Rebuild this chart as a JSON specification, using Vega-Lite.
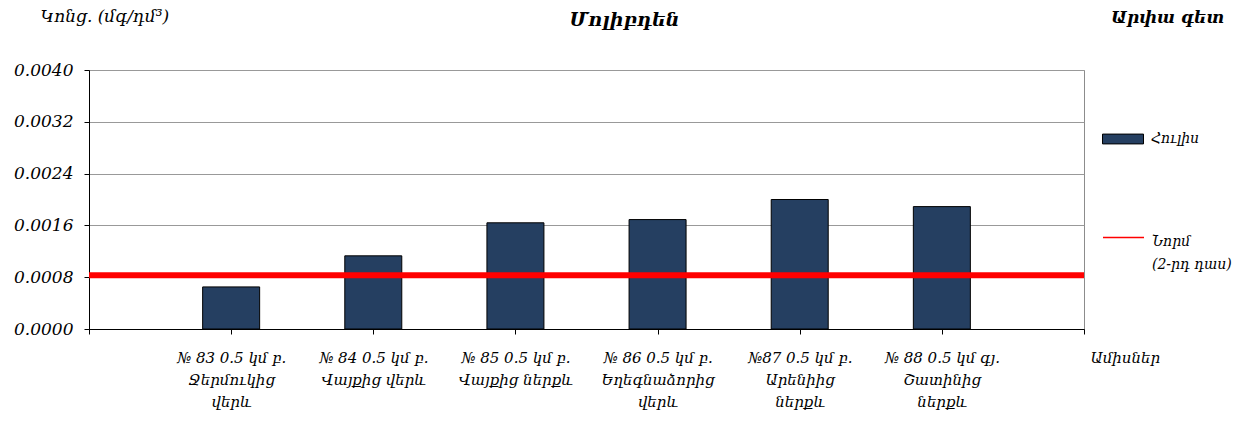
{
  "$schema": "https://vega.github.io/schema/vega-lite/v6.json",
  "width": 995,
  "height": 259,
  "autosize": {"type": "none"},
  "padding": {"left": 89, "top": 70, "right": 159, "bottom": 99},
  "background": "white",
  "config": {
    "font": "DejaVu Serif",
    "view": {"stroke": "#8c8c8c", "strokeWidth": 1}
  },
  "title": {
    "text": "Մոլիբդեն",
    "font": "DejaVu Serif",
    "fontStyle": "italic",
    "fontWeight": "bold",
    "fontSize": 19,
    "color": "black",
    "anchor": "middle",
    "dx": 38,
    "offset": -23
  },
  "layer": [
    {
      "data": {
        "values": [
          {"site": "№ 83 0.5 կմ բ.\nՋերմուկից\nվերև", "value": 0.00065},
          {"site": "№ 84 0.5 կմ բ.\nՎայքից վերև", "value": 0.00113},
          {"site": "№ 85 0.5 կմ բ.\nՎայքից ներքև", "value": 0.00164},
          {"site": "№ 86 0.5 կմ բ.\nԵղեգնաձորից\nվերև", "value": 0.00169},
          {"site": "№87 0.5 կմ բ.\nԱրենիից\nներքև", "value": 0.0020},
          {"site": "№ 88 0.5 կմ գյ.\nՇատինից\nներքև", "value": 0.00189}
        ]
      },
      "mark": {"type": "bar", "width": 57, "stroke": "black", "strokeWidth": 1},
      "encoding": {
        "x": {
          "field": "site",
          "type": "nominal",
          "sort": null,
          "scale": {
            "type": "point",
            "padding": 0,
            "domain": [
              "start",
              "№ 83 0.5 կմ բ.\nՋերմուկից\nվերև",
              "№ 84 0.5 կմ բ.\nՎայքից վերև",
              "№ 85 0.5 կմ բ.\nՎայքից ներքև",
              "№ 86 0.5 կմ բ.\nԵղեգնաձորից\nվերև",
              "№87 0.5 կմ բ.\nԱրենիից\nներքև",
              "№ 88 0.5 կմ գյ.\nՇատինից\nներքև",
              "end"
            ]
          },
          "axis": {
            "title": "Ամիսներ",
            "titleFont": "DejaVu Serif",
            "titleFontStyle": "italic",
            "titleFontWeight": "normal",
            "titleFontSize": 15,
            "titleColor": "black",
            "titleAlign": "left",
            "titleBaseline": "middle",
            "titleAnchor": null,
            "titleX": 1001,
            "titleY": 28,
            "labelExpr": "datum.value == 'start' || datum.value == 'end' ? '' : split(datum.value, '\\n')",
            "labelAngle": 0,
            "labelAlign": "center",
            "labelBaseline": "top",
            "labelFont": "DejaVu Serif",
            "labelFontStyle": "italic",
            "labelFontSize": 15,
            "labelLineHeight": 22,
            "labelColor": "black",
            "labelPadding": 16,
            "labelOverlap": false,
            "labelBound": false,
            "labelLimit": 0,
            "tickSize": 5,
            "tickColor": "black",
            "tickWidth": 1,
            "domainColor": "black",
            "domainWidth": 1,
            "grid": false
          }
        },
        "y": {
          "field": "value",
          "type": "quantitative",
          "scale": {"domain": [0, 0.004], "nice": false},
          "axis": {
            "values": [0, 0.0008, 0.0016, 0.0024, 0.0032, 0.004],
            "format": ".4f",
            "labelFont": "DejaVu Serif",
            "labelFontStyle": "italic",
            "labelFontSize": 17,
            "labelColor": "black",
            "labelPadding": 11,
            "tickSize": 5,
            "tickColor": "black",
            "domainColor": "black",
            "grid": true,
            "gridColor": "#999999",
            "gridWidth": 1,
            "title": "Կոնց. (մգ/դմ³)",
            "titleFont": "DejaVu Serif",
            "titleFontStyle": "italic",
            "titleFontWeight": "normal",
            "titleFontSize": 17,
            "titleColor": "black",
            "titleAngle": 0,
            "titleAlign": "left",
            "titleBaseline": "alphabetic",
            "titleAnchor": null,
            "titleX": -49,
            "titleY": -49
          }
        },
        "fill": {
          "datum": "Հուլիս",
          "type": "nominal",
          "scale": {"range": ["#253F61"]},
          "legend": {
            "orient": "none",
            "legendX": 1013,
            "legendY": -60,
            "title": "Արփա գետ",
            "titleFont": "DejaVu Serif",
            "titleFontStyle": "italic",
            "titleFontWeight": "bold",
            "titleFontSize": 17,
            "titleColor": "black",
            "titlePadding": 91,
            "symbolType": "M-1,-0.24H1V0.24H-1Z",
            "symbolSize": 1681,
            "symbolStrokeColor": "black",
            "symbolStrokeWidth": 1,
            "symbolOpacity": 1,
            "labelFont": "DejaVu Serif",
            "labelFontStyle": "italic",
            "labelFontSize": 14,
            "labelColor": "black",
            "labelOffset": 7,
            "encode": {"title": {"update": {"dx": {"value": 9}}}}
          }
        }
      }
    },
    {
      "data": {"values": [{"norm": 0.00083, "label": "Նորմ\n(2-րդ դաս)"}]},
      "mark": {"type": "rule", "strokeWidth": 6},
      "encoding": {
        "y": {"field": "norm", "type": "quantitative"},
        "stroke": {
          "field": "label",
          "type": "nominal",
          "scale": {"range": ["#FF0000"]},
          "legend": {
            "orient": "none",
            "legendX": 1013,
            "legendY": 146,
            "title": null,
            "symbolType": "stroke",
            "symbolSize": 1681,
            "symbolStrokeWidth": 1.5,
            "symbolStrokeColor": "#FF0000",
            "labelExpr": "split(datum.label, '\\n')",
            "labelBaseline": "top",
            "labelFont": "DejaVu Serif",
            "labelFontStyle": "italic",
            "labelFontSize": 14,
            "labelColor": "black",
            "labelOffset": 7,
            "encode": {"labels": {"update": {"lineHeight": {"value": 23}, "dy": {"value": -3}}}}
          }
        }
      }
    }
  ]
}
